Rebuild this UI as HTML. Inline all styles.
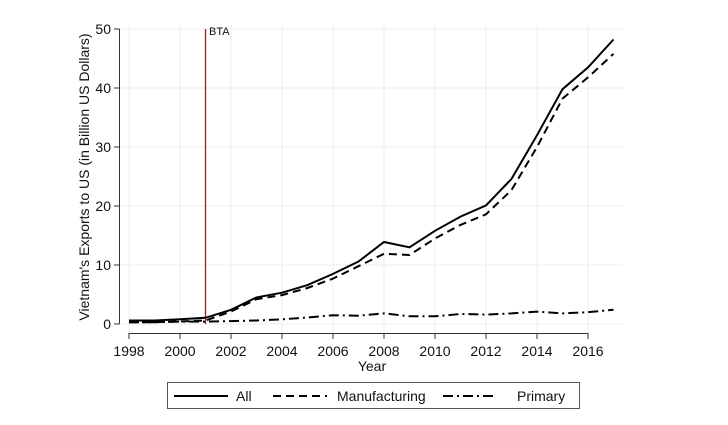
<!DOCTYPE html><html><head><style>body{margin:0;background:#fff}svg{display:block;font-family:"Liberation Sans",Arial,sans-serif}</style></head><body>
<svg width="728" height="425" viewBox="0 0 728 425">
<rect width="728" height="425" fill="#fff"/>
<g stroke="#ececec" stroke-width="1">
<line x1="120" x2="623" y1="324" y2="324"/><line x1="120" x2="623" y1="265" y2="265"/><line x1="120" x2="623" y1="206" y2="206"/><line x1="120" x2="623" y1="147" y2="147"/><line x1="120" x2="623" y1="88" y2="88"/><line x1="120" x2="623" y1="29" y2="29"/>
<line x1="129" x2="129" y1="25" y2="333"/><line x1="180" x2="180" y1="25" y2="333"/><line x1="231" x2="231" y1="25" y2="333"/><line x1="282" x2="282" y1="25" y2="333"/><line x1="333" x2="333" y1="25" y2="333"/><line x1="384" x2="384" y1="25" y2="333"/><line x1="435" x2="435" y1="25" y2="333"/><line x1="486" x2="486" y1="25" y2="333"/><line x1="537" x2="537" y1="25" y2="333"/><line x1="588" x2="588" y1="25" y2="333"/>
</g>
<g stroke="#333" stroke-width="1" fill="none">
<line x1="119.5" x2="119.5" y1="29" y2="324"/>
<line x1="129" x2="588" y1="333.5" y2="333.5"/>
<path d="M114 324H119.5M114 265H119.5M114 206H119.5M114 147H119.5M114 88H119.5M114 29H119.5"/>
<path d="M129 333v6M180 333v6M231 333v6M282 333v6M333 333v6M384 333v6M435 333v6M486 333v6M537 333v6M588 333v6"/>
</g>
<g font-size="14" fill="#111" text-anchor="end">
<text x="111" y="329">0</text><text x="111" y="270">10</text><text x="111" y="211">20</text><text x="111" y="152">30</text><text x="111" y="93">40</text><text x="111" y="34">50</text>
</g>
<g font-size="14" fill="#111" text-anchor="middle">
<text x="129" y="356">1998</text><text x="180" y="356">2000</text><text x="231" y="356">2002</text><text x="282" y="356">2004</text><text x="333" y="356">2006</text><text x="384" y="356">2008</text><text x="435" y="356">2010</text><text x="486" y="356">2012</text><text x="537" y="356">2014</text><text x="588" y="356">2016</text>
<text x="372" y="371">Year</text>
<text transform="translate(89,177) rotate(-90)">Vietnam's Exports to US (in Billion US Dollars)</text>
</g>
<line x1="205.5" x2="205.5" y1="29" y2="324" stroke="#e00000" stroke-width="1.3"/>
<text x="209" y="35" font-size="11" fill="#111">BTA</text>
<g fill="none" stroke="#000" stroke-width="2">
<polyline points="129,320.5 154.5,320.5 180,319.3 205.5,317.8 231,309.8 256.5,297.4 282,292.7 307.5,285.1 333,273.9 358.5,261.5 384,242.0 409.5,247.3 435,230.8 460.5,216.6 486,205.4 511.5,178.9 537,135.2 562.5,89.2 588,67.4 613.5,39.5"/>
<polyline stroke-dasharray="8,5" points="129,322.2 154.5,322.2 180,321.4 205.5,320.5 231,311.6 256.5,299.2 282,295.1 307.5,288.0 333,278.6 358.5,266.2 384,253.8 409.5,255.0 435,238.5 460.5,224.9 486,214.3 511.5,190.1 537,147 562.5,98.6 588,77.4 613.5,53.8"/>
<polyline stroke-dasharray="10,4,2,4" points="129,322.2 154.5,322.2 180,321.6 205.5,321.6 231,321.1 256.5,320.5 282,319.3 307.5,317.5 333,315.2 358.5,315.7 384,313.4 409.5,316.3 435,316.3 460.5,314 486,314.6 511.5,313.4 537,311.6 562.5,313.4 588,312.2 613.5,309.8"/>
</g>
<rect x="167.5" y="382.5" width="412" height="26" fill="#fff" stroke="#555"/>
<g stroke="#000" stroke-width="2">
<line x1="174" x2="228" y1="396" y2="396"/>
<line x1="273" x2="327" y1="396" y2="396" stroke-dasharray="8,5"/>
<line x1="443" x2="497" y1="396" y2="396" stroke-dasharray="10,4,2,4"/>
</g>
<g font-size="14" fill="#111">
<text x="236" y="401">All</text><text x="337" y="401">Manufacturing</text><text x="517" y="401">Primary</text>
</g>
</svg></body></html>
